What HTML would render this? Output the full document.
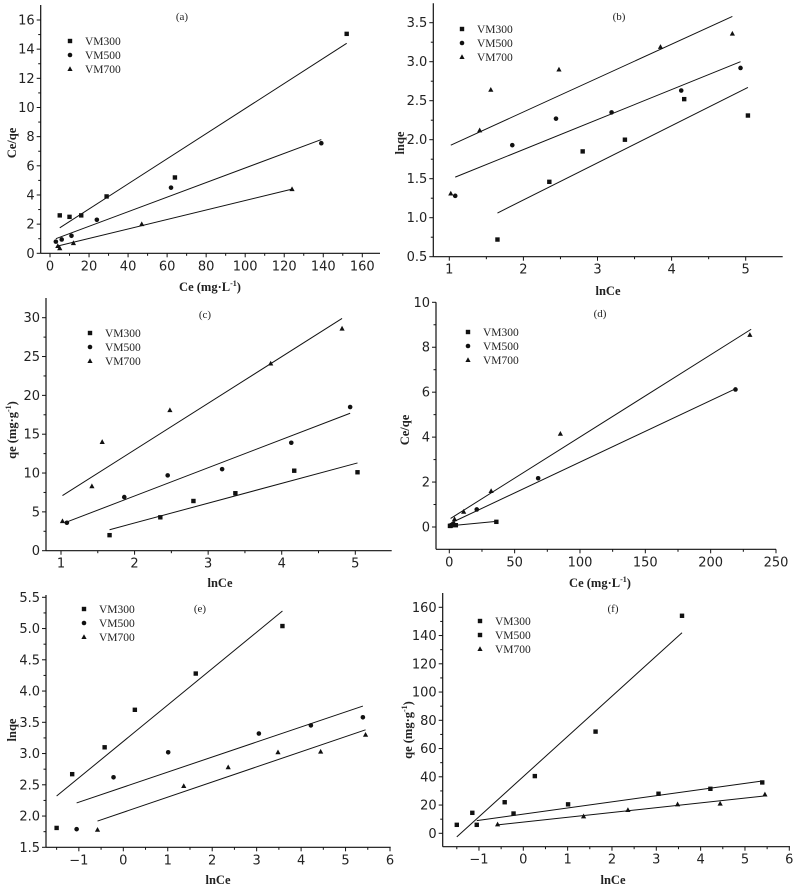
<!DOCTYPE html>
<html><head><meta charset="utf-8">
<style>
html,body{margin:0;padding:0;background:#fff;}
svg{display:block;}
.tk{font-family:"DejaVu Sans","Liberation Sans",sans-serif;font-size:13px;fill:#222;}
.lg{font-family:"Liberation Serif",serif;font-size:11.5px;fill:#222;}
.tt{font-family:"Liberation Serif",serif;font-size:12.5px;font-weight:bold;fill:#222;}
.pl{font-family:"Liberation Serif",serif;font-size:11px;fill:#222;}
</style></head>
<body>
<svg id="fig" width="796" height="889" viewBox="0 0 796 889" xmlns="http://www.w3.org/2000/svg"></svg>
<script>
// ---- Data (data units) ----
// Panel a: Ce vs Ce/qe
const aX300=[5,10,16,29,64,152], aY300=[2.6,2.5,2.6,3.9,5.2,15.05];
const aX500=[3,6,11,24,62,139], aY500=[0.8,0.95,1.2,2.3,4.5,7.55];
const aX700=[4,5,12,47,124], aY700=[0.5,0.35,0.7,2.0,4.4];
const aFit300=[5,1.75,152,14.4], aFit500=[3,1.0,139,7.8], aFit700=[4,0.5,124,4.4];
// Panel b: lnCe vs lnqe
const bX300=[1.65,2.35,2.8,3.37,4.17,5.03], bY300=[0.72,1.46,1.85,2.0,2.52,2.31];
const bX500=[1.08,1.85,2.44,3.19,4.13,4.93], bY500=[1.28,1.93,2.27,2.35,2.63,2.92];
const bX700=[1.02,1.41,1.56,2.48,3.85,4.82], bY700=[1.31,2.12,2.64,2.90,3.19,3.36];
const bFit300=[1.65,1.06,5.03,2.67], bFit500=[1.08,1.52,4.93,3.0], bFit700=[1.02,1.93,4.82,3.58];
// Panel c: lnCe vs qe
const cX300=[1.66,2.35,2.8,3.37,4.17,5.03], cY300=[2.0,4.3,6.4,7.4,10.3,10.1];
const cX500=[1.08,1.86,2.45,3.19,4.13,4.93], cY500=[3.6,6.9,9.7,10.5,13.9,18.5];
const cX700=[1.02,1.42,1.56,2.48,3.85,4.82], cY700=[3.8,8.3,14.0,18.1,24.1,28.6];
const cFit300=[1.66,2.7,5.03,11.3], cFit500=[1.08,3.7,4.93,17.7], cFit700=[1.02,7.1,4.82,29.9];
// Panel d: Ce vs Ce/qe
const dX300=[0.5,1,2,5,36], dY300=[0.05,0.05,0.08,0.08,0.23];
const dX500=[2,3,21,68,219], dY500=[0.1,0.15,0.78,2.17,6.12];
const dX700=[4,11,32,85,230], dY700=[0.35,0.68,1.6,4.15,8.55];
const dFit300=[0,0.05,36,0.25], dFit500=[2,0.2,219,6.15], dFit700=[1,0.38,231,8.8];
// Panel e: lnCe vs lnqe
const eX300=[-1.5,-1.15,-0.42,0.26,1.63,3.58], eY300=[1.81,2.67,3.1,3.7,4.28,5.04];
const eX500=[-1.05,-0.22,1.01,3.05,4.22,5.39], eY500=[1.79,2.62,3.02,3.32,3.45,3.58];
const eX700=[-0.58,1.36,2.36,3.48,4.44,5.45], eY700=[1.78,2.48,2.78,3.02,3.03,3.30];
const eFit300=[-1.5,2.32,3.58,5.28], eFit500=[-1.05,2.21,5.39,3.76], eFit700=[-0.58,1.92,5.45,3.38];
// Panel f: lnCe vs qe
const fX300=[-1.5,-1.15,-0.42,0.26,1.63,3.58], fY300=[6,14.5,22,40.5,72,154];
const fX500=[-1.05,-0.22,1.01,3.05,4.22,5.39], fY500=[6,14,20.5,28,31.5,36];
const fX700=[-0.58,1.36,2.36,3.48,4.44,5.45], fY700=[6.3,12,16.5,20.5,21,27.5];
const fFit300=[-1.5,-2.5,3.58,142], fFit500=[-1.05,9,5.39,37], fFit700=[-0.58,6,5.45,26.5];
// Tick labels
const aXT=[0,20,40,60,80,100,120,140,160], aYT=[0,2,4,6,8,10,12,14,16];
const bXT=[1,2,3,4,5], bYT=["0.5","1.0","1.5","2.0","2.5","3.0","3.5"];
const cXT=[1,2,3,4,5], cYT=[0,5,10,15,20,25,30];
const dXT=[0,50,100,150,200,250], dYT=[0,2,4,6,8,10];
const eXT=[-1,0,1,2,3,4,5,6], eYT=["1.5","2.0","2.5","3.0","3.5","4.0","4.5","5.0","5.5"];
const fXT=[-1,0,1,2,3,4,5,6], fYT=[0,20,40,60,80,100,120,140,160];
const seriesNames=["VM300","VM500","VM700"];

const NS="http://www.w3.org/2000/svg";
const svg=document.getElementById('fig');
function mk(tag,attrs,parent){const e=document.createElementNS(NS,tag);for(const k in attrs)e.setAttribute(k,attrs[k]);(parent||svg).appendChild(e);return e;}

const panels=[
 {id:'a',ax:[40.7,380],ay:[253.3,5],xm:[0,50,160,362.3],ym:[0,253.3,16,20],xt:aXT,yt:aYT,
  S:[[aX300,aY300,aFit300],[aX500,aY500,aFit500],[aX700,aY700,aFit700]],mk:['sq','ci','tr'],
  xl:'Ce (mg·L',sup:true,xlx:210,xly:291,yl:'Ce/qe',ylx:12,yly:143,lab:'(a)',labx:182,laby:20,lgx:70,lgy:41},
 {id:'b',ax:[433.3,782.7],ay:[256.7,3.3],xm:[1,449.3,5,745.7],ym:[0.5,256.7,3.5,22.7],xt:bXT,yt:bYT,
  S:[[bX300,bY300,bFit300],[bX500,bY500,bFit500],[bX700,bY700,bFit700]],mk:['sq','ci','tr'],
  xl:'lnCe',xlx:608,xly:295,yl:'lnqe',ylx:400,yly:143,lab:'(b)',labx:619,laby:20,lgx:462,lgy:29},
 {id:'c',ax:[46,391.7],ay:[550.7,298],xm:[1,61,5,355.3],ym:[0,550.7,30,317.7],xt:cXT,yt:cYT,
  S:[[cX300,cY300,cFit300],[cX500,cY500,cFit500],[cX700,cY700,cFit700]],mk:['sq','ci','tr'],
  xl:'lnCe',xlx:220,xly:587,yl:'qe (mg·g',ysup:true,ylx:12,yly:430,lab:'(c)',labx:205,laby:318,lgx:90,lgy:333},
 {id:'d',ax:[436,776],ay:[549.3,302.3],xm:[0,449.3,250,776],ym:[0,527,10,302.3],xt:dXT,yt:dYT,
  S:[[dX300,dY300,dFit300],[dX500,dY500,dFit500],[dX700,dY700,dFit700]],mk:['sq','ci','tr'],
  xl:'Ce (mg·L',sup:true,xlx:600,xly:587,yl:'Ce/qe',ylx:405,yly:430,lab:'(d)',labx:600,laby:317,lgx:468,lgy:332},
 {id:'e',ax:[46,390.7],ay:[847.3,595],xm:[0,123.3,6,390],ym:[1.5,847.3,5.5,597.3],xt:eXT,yt:eYT,
  S:[[eX300,eY300,eFit300],[eX500,eY500,eFit500],[eX700,eY700,eFit700]],mk:['sq','ci','tr'],
  xl:'lnCe',xlx:218,xly:884,yl:'lnqe',ylx:12,yly:730,lab:'(e)',labx:200,laby:612,lgx:84,lgy:609},
 {id:'f',ax:[442.7,790],ay:[846.7,593],xm:[0,523.3,6,789.3],ym:[0,833.3,160,607.3],xt:fXT,yt:fYT,
  S:[[fX300,fY300,fFit300],[fX500,fY500,fFit500],[fX700,fY700,fFit700]],mk:['sq','sq','tr'],
  xl:'lnCe',xlx:613,xly:884,yl:'qe (mg·g',ysup:true,ylx:408,yly:730,lab:'(f)',labx:613,laby:612,lgx:480,lgy:621}
];

function marker(type,x,y,g){
  let e;
  if(type==='sq') e=mk('rect',{x:x-2.2,y:y-2.2,width:4.4,height:4.4,fill:'#111'},g);
  else if(type==='ci') e=mk('circle',{cx:x,cy:y,r:2.3,fill:'#111'},g);
  else e=mk('polygon',{points:`${x},${y-2.8} ${x-2.6},${y+2} ${x+2.6},${y+2}`,fill:'#111'},g);
  return e;
}

panels.forEach(p=>{
  const g=mk('g',{});
  
  
  const X=v=>p.xm[1]+(v-p.xm[0])*(p.xm[3]-p.xm[1])/(p.xm[2]-p.xm[0]);
  const Y=v=>p.ym[1]+(v-p.ym[0])*(p.ym[3]-p.ym[1])/(p.ym[2]-p.ym[0]);
  const x0=p.ax[0],x1=p.ax[1],yb=p.ay[0],yt=p.ay[1];
  const xa=mk('line',{x1:x0,y1:yb,x2:x1,y2:yb,stroke:'#111','stroke-width':1.2},g);
  
  
  const ya=mk('line',{x1:x0,y1:yb,x2:x0,y2:yt,stroke:'#111','stroke-width':1.2},g);
  
  
  // x ticks
  p.xt.forEach((t,i)=>{
    const px=X(+t);
    mk('line',{x1:px,y1:yb,x2:px,y2:yb+4,stroke:'#111','stroke-width':1},g);
    if(i<p.xt.length-1){const m=X((+t + +p.xt[i+1])/2);mk('line',{x1:m,y1:yb,x2:m,y2:yb+2.5,stroke:'#111','stroke-width':1},g);}
    if(i===0){const m=X(+t-(+p.xt[1]-+p.xt[0])/2);if(m>x0)mk('line',{x1:m,y1:yb,x2:m,y2:yb+2.5,stroke:'#111','stroke-width':1},g);}
    const tx=mk('text',{x:px,y:yb+17,'text-anchor':'middle',class:'tk'},g);
    tx.textContent=(+t<0?'−'+Math.abs(+t):String(t));
    
    
  });
  p.yt.forEach((t,i)=>{
    const py=Y(+t);
    mk('line',{x1:x0,y1:py,x2:x0-4,y2:py,stroke:'#111','stroke-width':1},g);
    if(i<p.yt.length-1){const m=Y((+t + +p.yt[i+1])/2);mk('line',{x1:x0,y1:m,x2:x0-2.5,y2:m,stroke:'#111','stroke-width':1},g);}
    if(i===0){const m=Y(+t-(+p.yt[1]-+p.yt[0])/2);if(m<yb-1)mk('line',{x1:x0,y1:m,x2:x0-2.5,y2:m,stroke:'#111','stroke-width':1},g);}
    const tx=mk('text',{x:x0-6,y:py+4.5,'text-anchor':'end',class:'tk'},g);
    tx.textContent=String(t);
    
    
  });
  // axis titles
  const xt=mk('text',{x:p.xlx,y:p.xly,'text-anchor':'middle',class:'tt'},g);
  xt.textContent=p.xl;
  if(p.sup){const s=mk('tspan',{dy:-5,'font-size':'8'},xt);s.textContent='-1';const s2=mk('tspan',{dy:5},xt);s2.textContent=')';}
  
  
  const ytl=mk('text',{x:p.ylx,y:p.yly,'text-anchor':'middle',class:'tt',transform:`rotate(-90 ${p.ylx} ${p.yly})`,dy:4},g);
  ytl.textContent=p.yl;
  if(p.ysup){const s=mk('tspan',{dy:-5,'font-size':'8'},ytl);s.textContent='-1';const s2=mk('tspan',{dy:5},ytl);s2.textContent=')';}
  
  
  const lb=mk('text',{x:p.labx,y:p.laby,'text-anchor':'middle',class:'pl'},g);
  lb.textContent=p.lab;
  
  
  // series
  p.S.forEach((s,si)=>{
    const [xs,ys,fit]=s;
    const fl=mk('line',{x1:X(fit[0]),y1:Y(fit[1]),x2:X(fit[2]),y2:Y(fit[3]),stroke:'#111','stroke-width':1},g);
    
    
    xs.forEach((xv,k)=>{
      const m=marker(p.mk[si],X(xv),Y(ys[k]),g);
      
      
    });
    const ly=p.lgy+si*14;
    const lm=marker(p.mk[si],p.lgx,ly,g);
    
    
    const lt=mk('text',{x:p.lgx+15,y:ly+4,class:'lg'},g);
    lt.textContent=seriesNames[si];
    
    
  });
});
</script>
</body></html>
